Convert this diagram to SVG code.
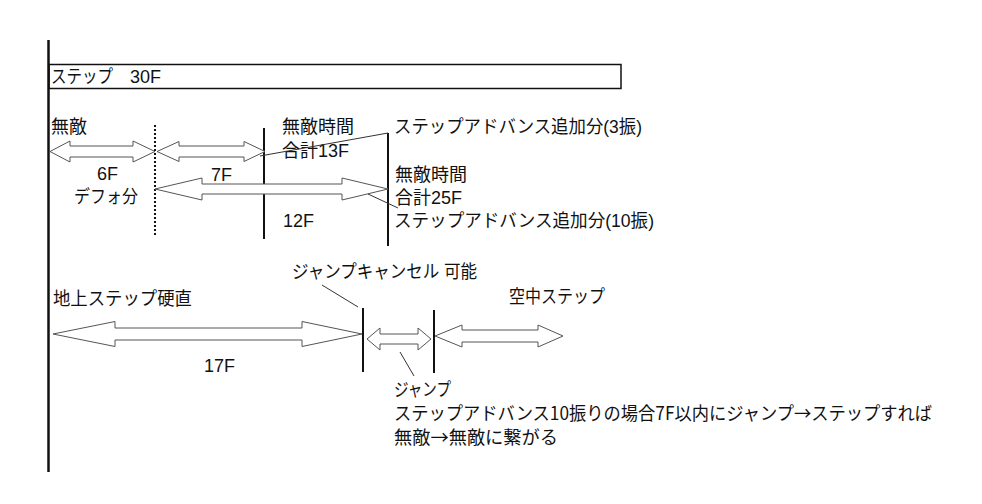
<svg xmlns="http://www.w3.org/2000/svg" width="982" height="504" viewBox="0 0 982 504">
<style>
text{font-family:"Liberation Sans","Noto Sans CJK JP",sans-serif;font-size:18px;fill:#111}
.jp{font-family:"Noto Sans CJK JP",sans-serif}
.ba{fill:#fff;stroke:#555;stroke-width:1;stroke-linejoin:miter}
.v{stroke:#111;stroke-width:2;fill:none}
.ld{stroke:#333;stroke-width:1;fill:none}
</style>
<rect width="982" height="504" fill="#fff"/>
<g id="axis"><line class="v" x1="48.5" y1="40" x2="48.5" y2="472" style="stroke-width:2.5"/></g>
<g id="step-box">
<rect x="49" y="64.5" width="572" height="24" fill="none" stroke="#111" stroke-width="1.5"/>
<text x="51" y="83" textLength="62" lengthAdjust="spacingAndGlyphs">ステップ</text>
<text x="130" y="83">30F</text>
</g>
<g id="markers">
<line class="v" x1="155" y1="125" x2="155" y2="237" stroke-dasharray="2,2"/>
<line class="v" x1="264" y1="128" x2="264" y2="239"/>
<line class="v" x1="388" y1="133" x2="388" y2="246"/>
<line class="v" x1="363" y1="308" x2="363" y2="372"/>
<line class="v" x1="434" y1="310" x2="434" y2="373"/>
</g>
<g id="arrow-6f">
<polygon class="ba" points="50,151.5 70,141 70,146 133,146 133,141 155,151.5 133,162 133,157 70,157 70,162"/>
<text x="51" y="133">無敵</text>
<text x="97" y="180">6F</text>
<text x="74" y="203" textLength="64" lengthAdjust="spacingAndGlyphs">デフォ分</text>
</g>
<g id="arrow-7f">
<polygon class="ba" points="157,151.5 179,141.5 179,146 244,146 244,141.5 265,151.5 244,161.5 244,157 179,157 179,161.5"/>
<text x="211" y="181">7F</text>
</g>
<g id="arrow-12f">
<polygon class="ba" points="155,189 202,178 202,184 342,184 342,178 388,189 342,200 342,194 202,194 202,200"/>
<text x="283" y="227">12F</text>
</g>
<g id="label-13f">
<text x="282" y="133">無敵時間</text>
<text x="282" y="157">合計13F</text>
</g>
<g id="label-3">
<text x="394" y="133" textLength="248" lengthAdjust="spacingAndGlyphs">ステップアドバンス追加分(3振)</text>
</g>
<g id="label-25f">
<text x="395" y="181">無敵時間</text>
<text x="395" y="204">合計25F</text>
</g>
<g id="label-10">
<text x="394" y="227" textLength="260" lengthAdjust="spacingAndGlyphs">ステップアドバンス追加分(10振)</text>
</g>
<g id="arrow-17f">
<polygon class="ba" points="53,334 115,321.5 115,328 302,328 302,321.5 362,334 302,346.5 302,340 115,340 115,346.5"/>
<text x="53" y="305" textLength="139" lengthAdjust="spacingAndGlyphs">地上ステップ硬直</text>
<text x="204" y="372">17F</text>
</g>
<g id="label-cancel">
<text x="292" y="278" textLength="185" lengthAdjust="spacingAndGlyphs">ジャンプキャンセル 可能</text>
</g>
<g id="arrow-jump">
<polygon class="ba" points="367,339 380,328 380,334 418,334 418,328 431,339 418,350 418,344 380,344 380,350"/>
</g>
<g id="arrow-air">
<polygon class="ba" points="435,336 462,325 462,330 538,330 538,325 563,336 538,347 538,342 462,342 462,347"/>
<text x="509" y="303" textLength="96" lengthAdjust="spacingAndGlyphs">空中ステップ</text>
</g>
<g id="note-jump">
<text x="394" y="396" textLength="57" lengthAdjust="spacingAndGlyphs">ジャンプ</text>
<text class="jp" x="394" y="420" textLength="538" lengthAdjust="spacingAndGlyphs">ステップアドバンス10振りの場合7F以内にジャンプ→ステップすれば</text>
<text class="jp" x="394" y="444" textLength="164" lengthAdjust="spacingAndGlyphs">無敵→無敵に繋がる</text>
</g>
<g id="connectors">
<line class="ld" x1="260" y1="156" x2="388" y2="133"/>
<line class="ld" x1="368" y1="194" x2="398" y2="208"/>
<line class="ld" x1="322" y1="285" x2="358" y2="307"/>
<line class="ld" x1="400" y1="352" x2="414" y2="376"/>
</g>
</svg>
